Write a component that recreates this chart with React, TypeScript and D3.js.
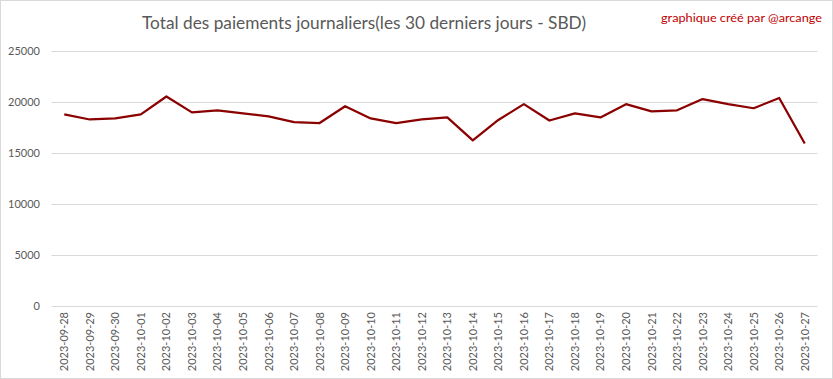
import React from "react";
import * as d3 from "d3";

const dates = [
  "2023-09-28","2023-09-29","2023-09-30","2023-10-01","2023-10-02","2023-10-03","2023-10-04","2023-10-05","2023-10-06","2023-10-07",
  "2023-10-08","2023-10-09","2023-10-10","2023-10-11","2023-10-12","2023-10-13","2023-10-14","2023-10-15","2023-10-16","2023-10-17",
  "2023-10-18","2023-10-19","2023-10-20","2023-10-21","2023-10-22","2023-10-23","2023-10-24","2023-10-25","2023-10-26","2023-10-27",
];
const payments = [
  18750, 18250, 18350, 18750, 20500, 18950, 19150, 18850, 18550, 18000,
  17900, 19550, 18350, 17900, 18250, 18450, 16200, 18200, 19750, 18150,
  18850, 18450, 19750, 19050, 19150, 20250, 19750, 19350, 20350, 15900,
];
const yTicks = [0, 5000, 10000, 15000, 20000, 25000];
const title = "Total des paiements journaliers(les 30 derniers jours - SBD)";
const credit = "graphique créé par @arcange";

export default function App() {
  const W = 833, H = 379;
  const left = 51.5, right = 817.5, top = 50.5, bottom = 306;
  const x = d3.scaleBand<string>().domain(dates).range([left, right]);
  const y = d3.scaleLinear().domain([0, 25000]).range([bottom, top]);
  const line = d3.line<number>()
    .x((_, i) => (x(dates[i]) as number) + x.bandwidth() / 2)
    .y((d) => y(d));
  const font = "Lato, 'Open Sans', sans-serif";
  return (
    <svg width={W} height={H} style={{ position: "absolute", left: 0, top: 0, background: "#fff" }}>
      <rect x={0.5} y={0.5} width={W - 1} height={H - 1} fill="#fff" stroke="#d9d9d9" />
      <text x={364} y={29} textAnchor="middle" fontFamily={font} fontSize={18} fill="#595959" textLength={444} lengthAdjust="spacingAndGlyphs">{title}</text>
      <text x={822} y={22} textAnchor="end" fontFamily={font} fontSize={12} fill="#c00000" textLength={161} lengthAdjust="spacingAndGlyphs">{credit}</text>
      {yTicks.map((t) => (
        <g key={t}>
          <line x1={left} x2={right} y1={Math.round(y(t)) + 0.5} y2={Math.round(y(t)) + 0.5} stroke="#d9d9d9" strokeWidth={1} />
          <text x={40} y={y(t) + 4} textAnchor="end" fontFamily={font} fontSize={11} fill="#595959">{t}</text>
        </g>
      ))}
      {dates.map((d) => {
        const cx = (x(d) as number) + x.bandwidth() / 2;
        return (
          <text key={d} transform={`translate(${cx + 4},${bottom + 6}) rotate(-90)`} textAnchor="end" fontFamily={font} fontSize={11} fill="#595959">{d}</text>
        );
      })}
      <path d={line(payments) || ""} fill="none" stroke="#8b0000" strokeWidth={2.25} strokeLinejoin="round" />
    </svg>
  );
}
